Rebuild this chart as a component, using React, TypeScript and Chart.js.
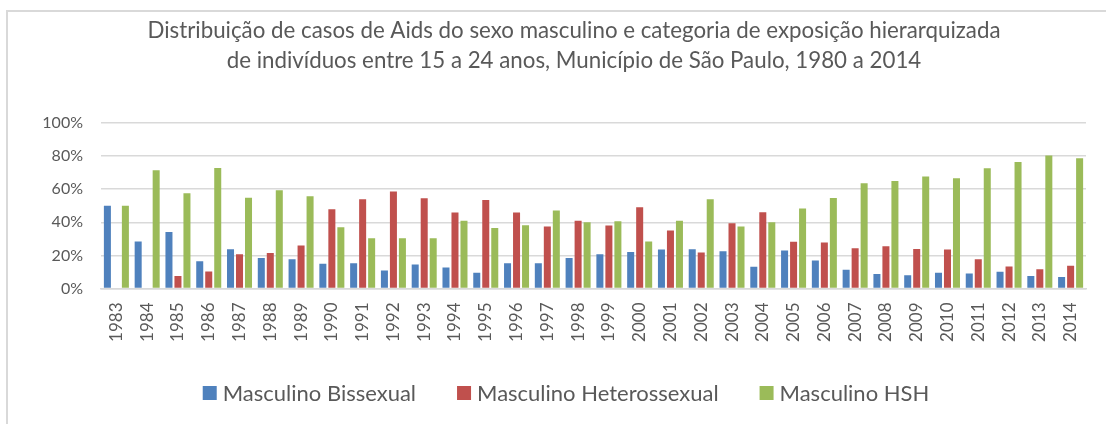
import React, { useEffect, useRef } from "react";
import { Chart, registerables } from "chart.js";

Chart.register(...registerables);

const titleLines = [
  "Distribuição de casos de Aids do sexo masculino e categoria de exposição hierarquizada",
  "de indivíduos entre 15 a 24 anos, Município de São Paulo, 1980 a 2014",
];

const years = [
  "1983", "1984", "1985", "1986", "1987", "1988", "1989", "1990", "1991", "1992", "1993",
  "1994", "1995", "1996", "1997", "1998", "1999", "2000", "2001", "2002", "2003", "2004",
  "2005", "2006", "2007", "2008", "2009", "2010", "2011", "2012", "2013", "2014",
];

const bissexual = [
  50, 28.4, 34.2, 16.5, 23.7, 18.5, 17.7, 14.9, 15.3, 10.9, 14.5,
  12.7, 9.5, 15.3, 15.3, 18.5, 20.7, 22.1, 23.5, 23.7, 22.5, 13.1,
  22.9, 16.9, 11.3, 8.7, 8.0, 9.5, 9.1, 10.1, 7.6, 7.0,
];

const heterossexual = [
  null, null, 7.6, 10.3, 20.7, 21.5, 26.0, 47.9, 53.9, 58.6, 54.5,
  45.9, 53.5, 45.9, 37.4, 41.0, 38.0, 49.1, 35.0, 21.7, 39.4, 46.1,
  28.2, 27.8, 24.3, 25.6, 23.9, 23.5, 17.7, 13.3, 11.7, 13.7,
];

const hsh = [
  50, 71.4, 57.5, 72.8, 54.9, 59.4, 55.7, 37.0, 30.4, 30.4, 30.4,
  41.0, 36.6, 38.2, 47.1, 40.0, 40.6, 28.4, 41.0, 53.9, 37.4, 40.0,
  48.3, 54.7, 63.6, 65.0, 67.6, 66.6, 72.6, 76.5, 80.3, 78.7,
];

const yTicks = [0, 20, 40, 60, 80, 100];

const seriesNames = ["Masculino Bissexual", "Masculino Heterossexual", "Masculino HSH"];
const seriesColors = ["#4f81bd", "#c0504d", "#9bbb59"];

const FONT = "Lato, 'Open Sans', sans-serif";
const TEXT = "#595959";
const GRID = "#d9d9d9";

// Title and legend drawn on the canvas, centred like the original (which is offset from the canvas centre)
const headerFooterPlugin = {
  id: "headerFooter",
  afterDraw(chart: any) {
    const ctx = chart.ctx as CanvasRenderingContext2D;
    ctx.save();
    // title
    ctx.fillStyle = TEXT;
    ctx.font = `22.3px ${FONT}`;
    ctx.textAlign = "center";
    ctx.textBaseline = "middle";
    const titleCx = 574;
    titleLines.forEach((line, i) => ctx.fillText(line, titleCx, 30.5 + i * 30));

    // legend
    ctx.font = `22px ${FONT}`;
    ctx.textAlign = "left";
    const box = 14;
    const gapText = 6;
    const gapItem = 41;
    const items = chart.data.datasets.map((ds: any) => ({
      label: ds.label as string,
      color: ds.backgroundColor as string,
      w: ctx.measureText(ds.label).width,
    }));
    const total =
      items.reduce((s: number, it: any) => s + box + gapText + it.w, 0) + gapItem * (items.length - 1);
    let x = 566 - total / 2;
    const cy = 393;
    items.forEach((it: any) => {
      ctx.fillStyle = it.color;
      ctx.fillRect(x, cy - box / 2, box, box);
      x += box + gapText;
      ctx.fillStyle = TEXT;
      ctx.fillText(it.label, x, cy + 1);
      x += it.w + gapItem;
    });
    ctx.restore();
  },
};

export default function App() {
  const ref = useRef<HTMLCanvasElement | null>(null);

  useEffect(() => {
    if (!ref.current) return;
    const seriesData = [bissexual, heterossexual, hsh];
    const chart = new Chart(ref.current, {
      type: "bar",
      data: {
        labels: years,
        datasets: seriesNames.map((name, i) => ({
          label: name,
          data: seriesData[i] as any,
          backgroundColor: seriesColors[i],
          borderWidth: 0,
          categoryPercentage: 0.877,
          barPercentage: 0.78,
        })),
      },
      options: {
        animation: false,
        responsive: false,
        maintainAspectRatio: false,
        layout: { padding: { left: 0, right: 20, top: 123, bottom: 73 } },
        plugins: {
          tooltip: { enabled: false },
          title: { display: false },
          legend: { display: false },
        },
        scales: {
          x: {
            grid: { display: false, drawTicks: false },
            border: { display: true, color: GRID, width: 1.5 },
            ticks: {
              color: TEXT,
              font: { family: FONT, size: 17 },
              minRotation: 90,
              maxRotation: 90,
              autoSkip: false,
              padding: 14,
            },
            afterFit: (scale: any) => {
              scale.height = 62.5;
            },
          },
          y: {
            min: 0,
            max: 100,
            afterBuildTicks: (scale: any) => {
              scale.ticks = yTicks.map((v) => ({ value: v }));
            },
            grid: { color: GRID, lineWidth: 1.5, drawTicks: false },
            border: { display: false },
            ticks: {
              color: TEXT,
              font: { family: FONT, size: 16 },
              padding: 18,
              callback: (v: any) => v + "%",
            },
            afterFit: (scale: any) => {
              scale.width = 101;
            },
          },
        },
      },
      plugins: [headerFooterPlugin],
    });
    return () => chart.destroy();
  }, []);

  return (
    <div
      style={{
        position: "absolute",
        left: 0,
        top: 0,
        width: 1106,
        height: 424,
        overflow: "hidden",
        background: "#fff",
      }}
    >
      <div
        style={{
          position: "absolute",
          left: 6,
          top: 10,
          width: 1200,
          height: 500,
          border: "2px solid #d9d9d9",
          boxSizing: "border-box",
        }}
      />
      <canvas
        ref={ref}
        width={1106}
        height={424}
        style={{ position: "absolute", left: 0, top: 0, width: 1106, height: 424 }}
      />
    </div>
  );
}
